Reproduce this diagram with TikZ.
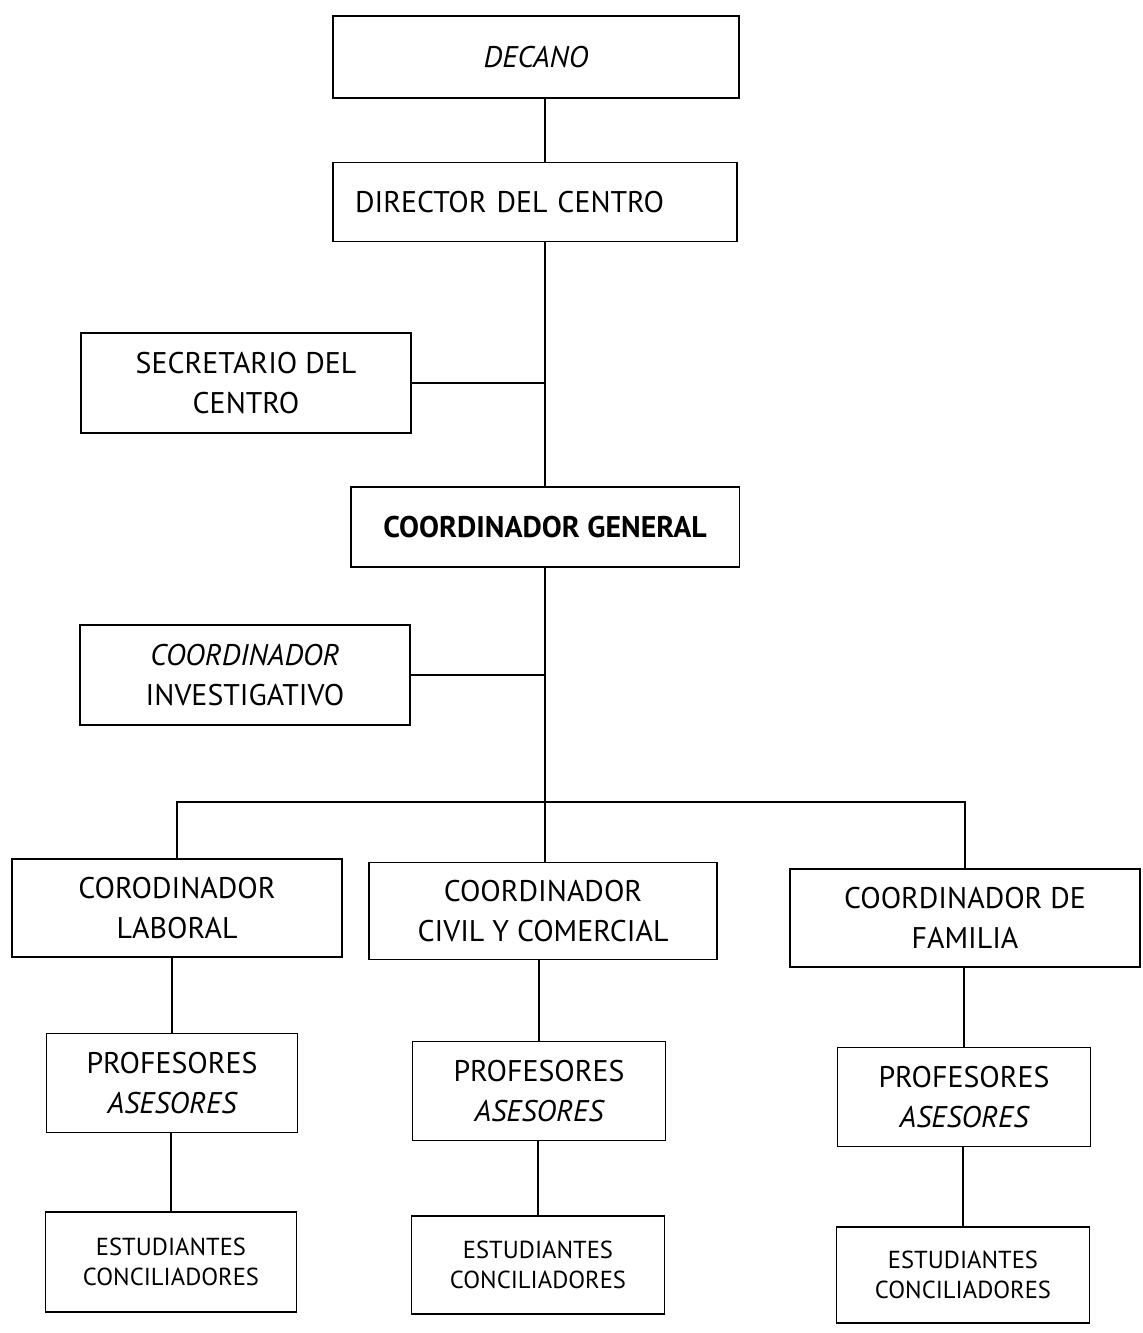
\documentclass[tikz,border=0pt]{standalone}
\usepackage{fontspec}
\setmainfont{PT Sans}
\usepackage{tikz}

\begin{document}
\begin{tikzpicture}[x=0.02cm,y=-0.02cm,line width=0.9pt,
    caja/.style={draw,rectangle,align=center,line width=1.1pt,font=\fontsize{17}{23}\selectfont},
    chica/.style={caja,font=\fontsize{14}{17}\selectfont}]
      \useasboundingbox (0,0) rectangle (1143,1333);

      \node [caja,minimum width=8.14cm,minimum height=1.64cm] (decano) at (536,57) {\itshape DECANO};
      \node [caja,minimum width=8.1cm,minimum height=1.58cm,text width=7.2cm,align=left] (director) at (535,202) {DIRECTOR DEL CENTRO};
      \node [caja,minimum width=6.6cm,minimum height=2cm] (secretario) at (246,383) {SECRETARIO DEL\\CENTRO};
      \node [caja,minimum width=7.78cm,minimum height=1.6cm] (general) at (545,527) {\bfseries COORDINADOR GENERAL};
      \node [caja,minimum width=6.6cm,minimum height=2cm] (investigativo) at (245,675) {\itshape COORDINADOR\\INVESTIGATIVO};

      \node [caja,minimum width=6.6cm,minimum height=1.96cm] (laboral) at (177,908) {CORODINADOR\\LABORAL};
      \node [caja,minimum width=6.96cm,minimum height=1.94cm] (civil) at (543,911) {COORDINADOR\\CIVIL Y COMERCIAL};
      \node [caja,minimum width=7cm,minimum height=1.96cm] (familia) at (965,918) {COORDINADOR DE\\FAMILIA};

      \node [caja,minimum width=5.02cm,minimum height=1.98cm] (profesores1) at (172,1083) {PROFESORES\\\itshape ASESORES};
      \node [caja,minimum width=5.06cm,minimum height=1.98cm] (profesores2) at (539,1091) {PROFESORES\\\itshape ASESORES};
      \node [caja,minimum width=5.06cm,minimum height=1.98cm] (profesores3) at (964,1097) {PROFESORES\\\itshape ASESORES};

      \node [chica,minimum width=5.02cm,minimum height=2cm] (estudiantes1) at (171,1262) {ESTUDIANTES\\CONCILIADORES};
      \node [chica,minimum width=5.06cm,minimum height=1.96cm] (estudiantes2) at (538,1265) {ESTUDIANTES\\CONCILIADORES};
      \node [chica,minimum width=5.06cm,minimum height=1.92cm] (estudiantes3) at (963,1275) {ESTUDIANTES\\CONCILIADORES};

      \coordinate (barra) at (545,802);

      \draw (decano.south -| general.north) -- (director.north -| general.north);
      \draw (director.south -| general.north) -- (general.north);
      \draw (secretario.east) -- (secretario.east -| general.north);
      \draw (investigativo.east) -- (investigativo.east -| general.south);
      \draw (general.south) -- (general.south |- civil.north);
      \draw (laboral.north) |- (barra) -| (familia.north);

      \draw (laboral.south -| profesores1.north) -- (profesores1.north);
      \draw (civil.south -| profesores2.north) -- (profesores2.north);
      \draw (familia.south -| profesores3.north) -- (profesores3.north);
      \draw (profesores1.south -| estudiantes1.north) -- (estudiantes1.north);
      \draw (profesores2.south -| estudiantes2.north) -- (estudiantes2.north);
      \draw (profesores3.south -| estudiantes3.north) -- (estudiantes3.north);
    \end{tikzpicture}
\end{document}
